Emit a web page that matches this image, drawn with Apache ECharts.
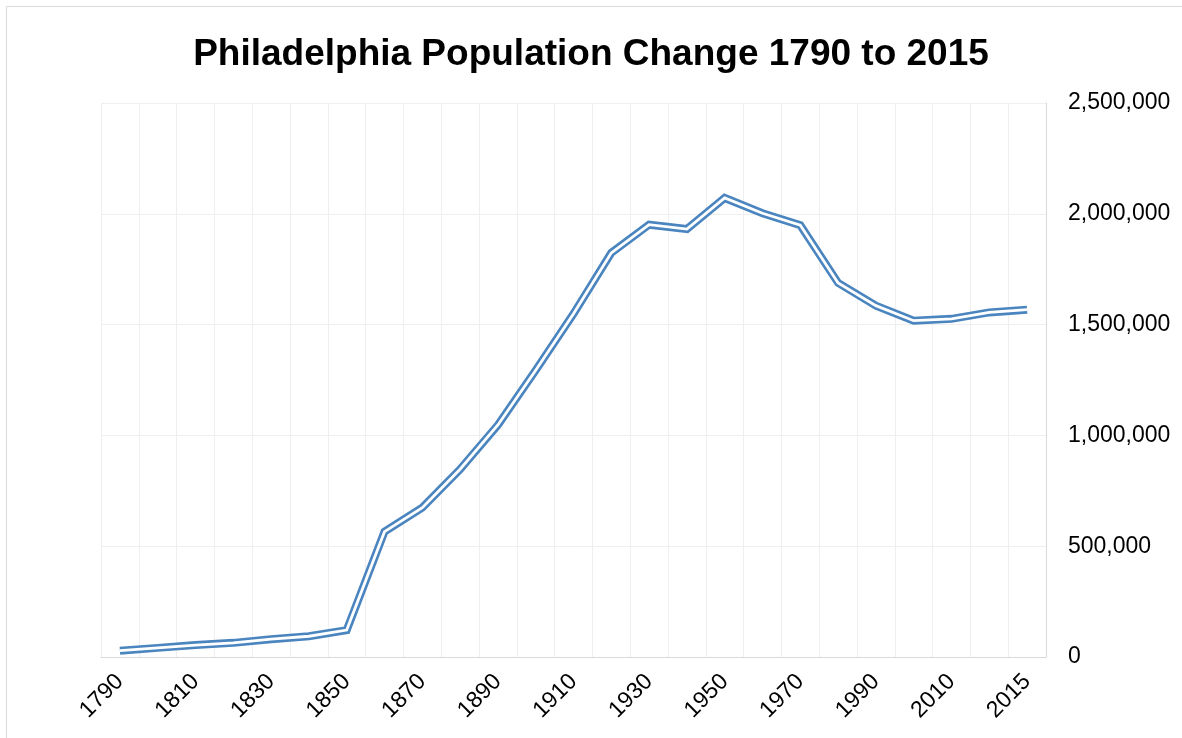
<!DOCTYPE html>
<html>
<head>
<meta charset="utf-8">
<title>Philadelphia Population Change 1790 to 2015</title>
<script src="https://cdn.jsdelivr.net/npm/echarts@6/dist/echarts.min.js"></script>
<style>
  html, body { margin: 0; padding: 0; background: #fff; }
  #chart { width: 1182px; height: 738px; }
</style>
</head>
<body>
<div id="chart"></div>
<script>
// census years (2013 is an estimate point between 2010 and 2015, label hidden)
const years = ['1790', '1800', '1810', '1820', '1830', '1840', '1850', '1860', '1870',
  '1880', '1890', '1900', '1910', '1920', '1930', '1940', '1950', '1960', '1970',
  '1980', '1990', '2000', '2010', '2013', '2015'];

const population = [28522, 41220, 53722, 63802, 80462, 93665, 121376, 565529, 674022,
  847170, 1046964, 1293697, 1549008, 1823779, 1950961, 1931334, 2071605, 2002512, 1948609,
  1688210, 1585577, 1517550, 1526006, 1555000, 1567442];

const yTicks = { min: 0, max: 2500000, step: 500000 };

const lineBlue = '#4a85bf';
const font = 'Liberation Sans, Arial, sans-serif';

const chart = echarts.init(document.getElementById('chart'));

chart.setOption({
  animation: false,
  backgroundColor: '#fff',
  title: {
    text: 'Philadelphia Population Change 1790 to 2015',
    left: 'center',
    top: 31,
    textStyle: { fontFamily: font, fontSize: 37, fontWeight: 'bold', color: '#000' }
  },
  // thin outer frame like the exported chart area
  graphic: [{
    type: 'rect',
    shape: { x: 6.5, y: 6.5, width: 1200, height: 760 },
    style: { fill: 'none', stroke: '#d9d9d9', lineWidth: 1 },
    silent: true
  }],
  grid: { left: 101, right: 136, top: 103, bottom: 81 },
  xAxis: {
    type: 'category',
    data: years,
    boundaryGap: true,
    axisLine: { show: true, lineStyle: { color: '#d9d9d9', width: 1 } },
    axisTick: { show: false, interval: 0 },
    axisLabel: {
      interval: 1,
      rotate: 45,
      margin: 21,
      fontFamily: font,
      fontSize: 23,
      color: '#000'
    },
    splitLine: { show: true, interval: 0, lineStyle: { color: '#efefef', width: 1 } }
  },
  yAxis: {
    type: 'value',
    position: 'right',
    min: yTicks.min,
    max: yTicks.max,
    interval: yTicks.step,
    axisLine: { show: true, lineStyle: { color: '#d9d9d9', width: 1 } },
    axisTick: { show: false },
    axisLabel: {
      margin: 22,
      fontFamily: font,
      fontSize: 23,
      color: '#000',
      formatter: (v) => v.toLocaleString('en-US')
    },
    splitLine: { show: true, lineStyle: { color: '#efefef', width: 1 } }
  },
  series: [
    {
      // outer strands of the double line
      type: 'line',
      data: population,
      showSymbol: false,
      lineStyle: { color: lineBlue, width: 8, join: 'miter' },
      z: 2
    },
    {
      // white core that splits the stroke in two
      type: 'line',
      data: population,
      showSymbol: false,
      lineStyle: { color: '#fff', width: 2.8, join: 'miter' },
      z: 3
    }
  ]
});
</script>
</body>
</html>
